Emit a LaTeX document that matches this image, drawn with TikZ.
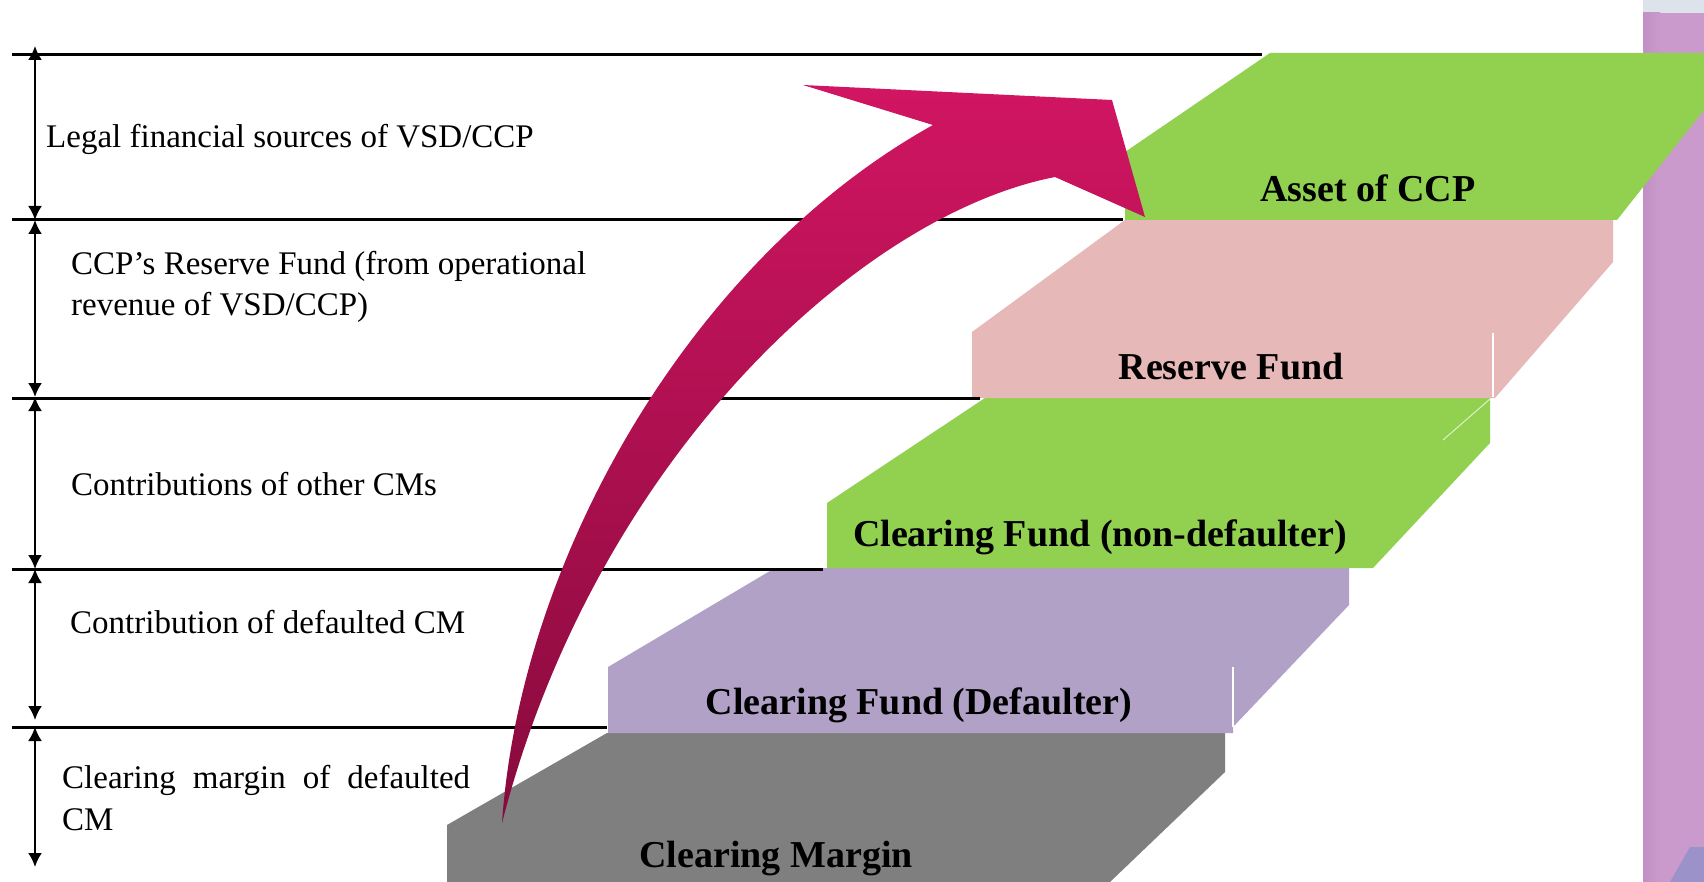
\documentclass[tikz,border=0pt]{standalone}
\usepackage{fontspec}
\setmainfont{Liberation Serif}
\usetikzlibrary{arrows.meta}
\definecolor{cgreen}{HTML}{92D050}
\definecolor{cpink}{HTML}{E6B8B7}
\definecolor{cpurple}{HTML}{B2A1C7}
\definecolor{cgray}{HTML}{7F7F7F}
\definecolor{cbar}{HTML}{C99ACB}
\definecolor{cbardark}{HTML}{C290C4}
\definecolor{cmag}{HTML}{D11562}
\definecolor{cmagmid}{HTML}{C71159}
\definecolor{cmaroon}{HTML}{870A3C}
\definecolor{ccorner}{HTML}{9C92CA}
\definecolor{ctop}{HTML}{DDE3EA}
\begin{document}
\begin{tikzpicture}[x=1pt,y=-1pt,
  hline/.style={line width=3pt, black},
  dimarrow/.style={line width=2.2pt, {Latex[length=14pt,width=14pt]}-{Latex[length=14pt,width=14pt]}},
  lefttext/.style={anchor=base west, inner sep=0pt, font=\fontsize{33}{40}\selectfont},
  slabtext/.style={anchor=base, inner sep=0pt, font=\fontsize{38}{44}\selectfont\bfseries},
  faceline/.style={white, line width=2pt}]

\fill[white] (0,0) rectangle (1704,882);
\useasboundingbox (0,0) rectangle (1704,882);

% right bar
\fill[ctop] (1643,0) rectangle (1704,13);
\fill[cbar] (1643,13) rectangle (1704,882);
\shade[left color=cbardark, right color=cbar] (1643,13) rectangle (1660,882);
\fill[ccorner] (1690,847) -- (1704,847) -- (1704,882) -- (1670,882) -- cycle;

% slabs
\fill[cgray] (447,882) -- (447,825) -- (607,733) -- (1225,733) -- (1225,772) -- (1110,882) -- cycle;
\fill[cpurple] (608,733) -- (608,667) -- (775,568) -- (1349,568) -- (1349,605) -- (1233,727) -- (1233,733) -- cycle;
\draw[faceline] (1233,667) -- (1233,727);
\fill[cgreen] (827,568) -- (827,503) -- (985,398) -- (1490,398) -- (1490,443) -- (1373,568) -- cycle;
\draw[white, line width=1pt, opacity=0.7] (1490,399) -- (1443,440);
\fill[cpink] (972,398) -- (972,332) -- (1125,220) -- (1613,220) -- (1613,262) -- (1495,398) -- cycle;
\draw[faceline] (1493,333) -- (1493,397);
\fill[cgreen] (1125,220) -- (1125,152) -- (1270,53) -- (1704,53) -- (1704,110) -- (1617,220) -- cycle;

% level lines
\draw[hline] (12,55) -- (1262,55);
\draw[hline] (12,220) -- (1123,220);
\draw[hline] (12,398) -- (980,398);
\draw[hline] (12,569) -- (823,569);
\draw[hline] (12,727) -- (607,727);

% dimension arrows
\coordinate (a0) at (35,46);
\coordinate (a1) at (35,220);
\coordinate (a2) at (35,397);
\coordinate (a3) at (35,569);
\coordinate (a4) at (35,720);
\coordinate (a5) at (35,727);
\coordinate (a6) at (35,867);
\draw[dimarrow] (a0) -- (a1);
\draw[dimarrow] (a1) -- (a2);
\draw[dimarrow] (a2) -- (a3);
\draw[dimarrow] (a3) -- (a4);
\draw[dimarrow] (a5) -- (a6);

% left texts
\node[lefttext] (t1) at (46,148) {Legal financial sources of VSD/CCP};
\node[lefttext] (t2a) at (71,275) {CCP’s Reserve Fund (from operational};
\node[lefttext] (t2b) at (71,316) {revenue of VSD/CCP)};
\node[lefttext] (t3) at (71,495) {Contributions of other CMs};
\node[lefttext] (t4) at (70,633) {Contribution of defaulted CM};
\node[lefttext] (t5a) at (62,788) {\makebox[408pt][s]{Clearing margin of defaulted}};
\node[lefttext] (t5b) at (62,830) {CM};

% slab labels
\node[slabtext] (asset) at (1368,202) {Asset of CCP};
\node[slabtext] (reserve) at (1231,379) {Reserve Fund};
\node[slabtext] (cfnd) at (1100,546) {Clearing Fund (non-defaulter)};
\node[slabtext] (cfd) at (919,714) {Clearing Fund (Defaulter)};
\node[slabtext] (cmargin) at (776,867) {Clearing Margin};

% big curved arrow
\coordinate (tail) at (502,823);
\coordinate (outerjoin) at (933,125);
\coordinate (barb) at (803,85);
\coordinate (corner) at (1112,100);
\coordinate (tip) at (1145,217);
\coordinate (notch) at (1055,177);
\shade[top color=cmag, middle color=cmagmid, bottom color=cmaroon]
  (tail) .. controls (520,560) and (690,260) .. (outerjoin)
  -- (barb) -- (corner) -- (tip) -- (notch)
  .. controls (860,215) and (595,460) .. (tail) -- cycle;
\end{tikzpicture}
\end{document}
